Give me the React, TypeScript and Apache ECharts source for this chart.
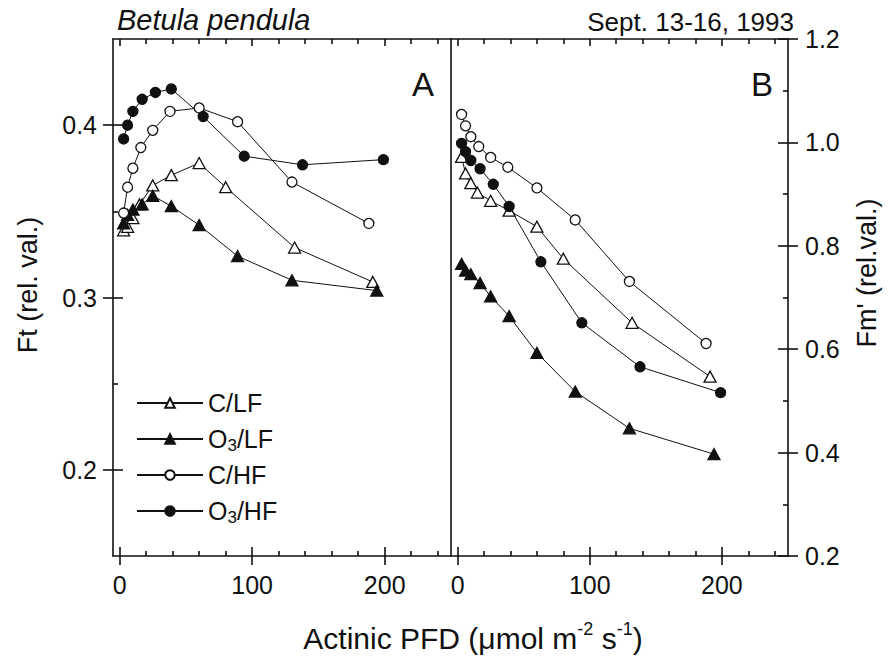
import React, { useEffect, useRef } from 'react';
import * as echarts from 'echarts';

// ---- tick positions ----
const xTicksMajor = [0, 100, 200];
const xTicksMinor = [20, 40, 60, 80, 120, 140, 160, 180, 220, 240];
const ftTicksMajor = [0.2, 0.3, 0.4];
const ftTicksMinor = [0.25, 0.35];
const fmTicksMajor = [0.2, 0.4, 0.6, 0.8, 1.0, 1.2];
const fmTicksMinor = [0.3, 0.5, 0.7, 0.9, 1.1];

// ---- treatments ----
const seriesNames = ['C/LF', 'O3/LF', 'C/HF', 'O3/HF'];

// actinic PFD (x) per treatment
const pfdCLF = [3, 6, 10, 15, 25, 39, 60, 80, 132, 191];
const pfdO3LF = [3, 6, 10, 17, 25, 39, 60, 89, 130, 194];
const pfdCHF = [3, 6, 10, 16, 25, 38, 60, 89, 130, 188];
const pfdO3HF = [3, 6, 10, 17, 27, 39, 63, 94, 138, 199];

// Panel A: Ft (rel. val.)
const ftCLF = [0.339, 0.341, 0.346, 0.354, 0.365, 0.371, 0.378, 0.364, 0.329, 0.309];
const ftO3LF = [0.343, 0.348, 0.351, 0.354, 0.359, 0.353, 0.342, 0.324, 0.310, 0.304];
const ftCHF = [0.349, 0.364, 0.375, 0.387, 0.397, 0.408, 0.410, 0.402, 0.367, 0.343];
const ftO3HF = [0.392, 0.400, 0.408, 0.415, 0.419, 0.421, 0.405, 0.382, 0.377, 0.380];

// Panel B: Fm' (rel. val.)
const fmCLF = [0.972, 0.940, 0.921, 0.903, 0.887, 0.868, 0.837, 0.775, 0.651, 0.547];
const fmO3LF = [0.765, 0.752, 0.745, 0.728, 0.702, 0.664, 0.593, 0.518, 0.447, 0.397];
const fmCHF = [1.054, 1.032, 1.011, 0.992, 0.971, 0.952, 0.912, 0.850, 0.731, 0.611];
const fmO3HF = [0.998, 0.982, 0.965, 0.949, 0.919, 0.876, 0.769, 0.651, 0.566, 0.516];

const FONT = '"Liberation Sans", Arial, Helvetica, sans-serif';
const INK = '#111';

const markerStyles: Record<string, { symbol: string; filled: boolean; size: number | number[] }> = {
  'C/LF': { symbol: 'triangle', filled: false, size: [12, 11] },
  'O3/LF': { symbol: 'triangle', filled: true, size: [12, 11] },
  'C/HF': { symbol: 'circle', filled: false, size: 10 },
  'O3/HF': { symbol: 'circle', filled: true, size: 10 },
};

function makeSeries(name: string, xs: number[], ys: number[], xi: number, yi: number) {
  const m = markerStyles[name];
  return {
    type: 'line',
    name,
    xAxisIndex: xi,
    yAxisIndex: yi,
    data: xs.map((x, i) => [x, ys[i]]),
    symbol: m.symbol,
    symbolSize: m.size,
    showSymbol: true,
    lineStyle: { color: INK, width: 1 },
    itemStyle: { color: m.filled ? INK : '#fff', borderColor: INK, borderWidth: 1.3 },
    emphasis: { disabled: true },
  };
}

const lineStyle = { color: INK, width: 1.6 };

function xAxesFor(gridIndex: number) {
  const base = {
    type: 'value',
    gridIndex,
    min: -5,
    max: 250,
    splitLine: { show: false },
  };
  return [
    {
      ...base,
      position: 'bottom',
      axisLine: { show: true, onZero: false, lineStyle },
      axisTick: { show: true, inside: false, length: 9, customValues: xTicksMajor, lineStyle },
      axisLabel: { show: true, customValues: xTicksMajor, fontSize: 25, color: INK, fontFamily: FONT, margin: 16 },
    },
    {
      ...base,
      position: 'bottom',
      axisLine: { show: false, onZero: false },
      axisTick: { show: true, inside: true, length: 9, customValues: xTicksMajor, lineStyle },
      axisLabel: { show: false },
    },
    {
      ...base,
      position: 'bottom',
      axisLine: { show: false, onZero: false },
      axisTick: { show: true, inside: true, length: 5, customValues: xTicksMinor, lineStyle },
      axisLabel: { show: false },
    },
    {
      ...base,
      position: 'top',
      axisLine: { show: true, onZero: false, lineStyle },
      axisTick: { show: true, inside: true, length: 5, customValues: xTicksMinor, lineStyle },
      axisLabel: { show: false },
    },
    {
      ...base,
      position: 'top',
      axisLine: { show: false, onZero: false },
      axisTick: { show: true, inside: true, length: 7, customValues: xTicksMajor, lineStyle },
      axisLabel: { show: false },
    },
  ];
}

function yAxesFor(
  gridIndex: number,
  position: string,
  min: number,
  max: number,
  majors: number[],
  minors: number[],
  margin: number
) {
  const base = { type: 'value', gridIndex, min, max, position, splitLine: { show: false } };
  return [
    {
      ...base,
      axisLine: { show: true, onZero: false, lineStyle },
      axisTick: { show: true, inside: false, length: 10, customValues: majors, lineStyle },
      axisLabel: {
        show: true,
        customValues: majors,
        formatter: (v: number) => v.toFixed(1),
        fontSize: 25,
        color: INK,
        fontFamily: FONT,
        margin,
      },
    },
    {
      ...base,
      axisLine: { show: false, onZero: false },
      axisTick: { show: true, inside: true, length: 10, customValues: majors, lineStyle },
      axisLabel: { show: false },
    },
    {
      ...base,
      axisLine: { show: false, onZero: false },
      axisTick: { show: true, inside: true, length: 5, customValues: minors, lineStyle },
      axisLabel: { show: false },
    },
  ];
}

export default function App() {
  const ref = useRef<HTMLDivElement>(null);

  useEffect(() => {
    document.body.style.margin = '0';
    if (!ref.current) return;
    const chart = echarts.init(ref.current, null, { renderer: 'svg' });

    const yA = yAxesFor(0, 'left', 0.15, 0.45, ftTicksMajor, ftTicksMinor, 16);
    const yDivider = {
      type: 'value',
      gridIndex: 0,
      min: 0.15,
      max: 0.45,
      position: 'right',
      splitLine: { show: false },
      axisLine: { show: true, onZero: false, lineStyle },
      axisTick: { show: false },
      axisLabel: { show: false },
    };
    const yB = yAxesFor(1, 'right', 0.2, 1.2, fmTicksMajor, fmTicksMinor, 17);

    const option = {
      animation: false,
      backgroundColor: '#fff',
      textStyle: { fontFamily: FONT },
      grid: [
        { left: 113, top: 39, width: 338, height: 517, outerBoundsMode: 'none' },
        { left: 451, top: 39, width: 337, height: 517, outerBoundsMode: 'none' },
      ],
      xAxis: [...xAxesFor(0), ...xAxesFor(1)],
      yAxis: [...yA, yDivider, ...yB],
      legend: {
        data: seriesNames,
        orient: 'vertical',
        left: 131,
        top: 383,
        padding: 5,
        itemWidth: 66,
        itemHeight: 12,
        itemGap: 6,
        selectedMode: false,
        formatter: (name: string) => name.replace('O3', 'O{sub|3}'),
        textStyle: {
          fontSize: 25,
          color: INK,
          fontFamily: FONT,
          lineHeight: 30,
          rich: {
            sub: { fontSize: 17, lineHeight: 10, verticalAlign: 'bottom', fontFamily: FONT, color: INK },
          },
        },
      },
      graphic: [
        {
          type: 'text',
          x: 117,
          y: 20,
          style: {
            text: 'Betula pendula',
            font: `italic 29px ${FONT}`,
            fill: INK,
            align: 'left',
            textAlign: 'left',
            verticalAlign: 'middle',
            textVerticalAlign: 'middle',
          },
        },
        {
          type: 'text',
          x: 794,
          y: 22,
          style: {
            text: 'Sept. 13-16, 1993',
            font: `26px ${FONT}`,
            fill: INK,
            align: 'right',
            textAlign: 'right',
            verticalAlign: 'middle',
            textVerticalAlign: 'middle',
          },
        },
        {
          type: 'text',
          x: 423,
          y: 84,
          style: {
            text: 'A',
            font: `33px ${FONT}`,
            fill: INK,
            align: 'center',
            textAlign: 'center',
            verticalAlign: 'middle',
            textVerticalAlign: 'middle',
          },
        },
        {
          type: 'text',
          x: 762,
          y: 84,
          style: {
            text: 'B',
            font: `33px ${FONT}`,
            fill: INK,
            align: 'center',
            textAlign: 'center',
            verticalAlign: 'middle',
            textVerticalAlign: 'middle',
          },
        },
        {
          type: 'text',
          x: 28,
          y: 285,
          rotation: Math.PI / 2,
          style: {
            text: 'Ft (rel. val.)',
            font: `27px ${FONT}`,
            fill: INK,
            align: 'center',
            textAlign: 'center',
            verticalAlign: 'middle',
            textVerticalAlign: 'middle',
          },
        },
        {
          type: 'text',
          x: 867,
          y: 273,
          rotation: Math.PI / 2,
          style: {
            text: "Fm' (rel.val.)",
            font: `27px ${FONT}`,
            fill: INK,
            align: 'center',
            textAlign: 'center',
            verticalAlign: 'middle',
            textVerticalAlign: 'middle',
          },
        },
        {
          type: 'text',
          x: 473,
          y: 638,
          style: {
            text: 'Actinic PFD (μmol m{sup|-2} s{sup|-1})',
            font: `30px ${FONT}`,
            fontSize: 30,
            fontFamily: FONT,
            fill: INK,
            lineHeight: 36,
            align: 'center',
            textAlign: 'center',
            verticalAlign: 'middle',
            textVerticalAlign: 'middle',
            rich: {
              sup: { fontSize: 18, fontFamily: FONT, lineHeight: 16, verticalAlign: 'top', fill: INK },
            },
          },
        },
      ],
      series: [
        makeSeries('C/LF', pfdCLF, ftCLF, 0, 0),
        makeSeries('O3/LF', pfdO3LF, ftO3LF, 0, 0),
        makeSeries('C/HF', pfdCHF, ftCHF, 0, 0),
        makeSeries('O3/HF', pfdO3HF, ftO3HF, 0, 0),
        makeSeries('C/LF', pfdCLF, fmCLF, 5, 4),
        makeSeries('O3/LF', pfdO3LF, fmO3LF, 5, 4),
        makeSeries('C/HF', pfdCHF, fmCHF, 5, 4),
        makeSeries('O3/HF', pfdO3HF, fmO3HF, 5, 4),
      ],
    };

    chart.setOption(option as any);
    return () => chart.dispose();
  }, []);

  return (
    <div
      ref={ref}
      style={{ position: 'fixed', left: 0, top: 0, width: 892, height: 656, background: '#fff' }}
    />
  );
}
